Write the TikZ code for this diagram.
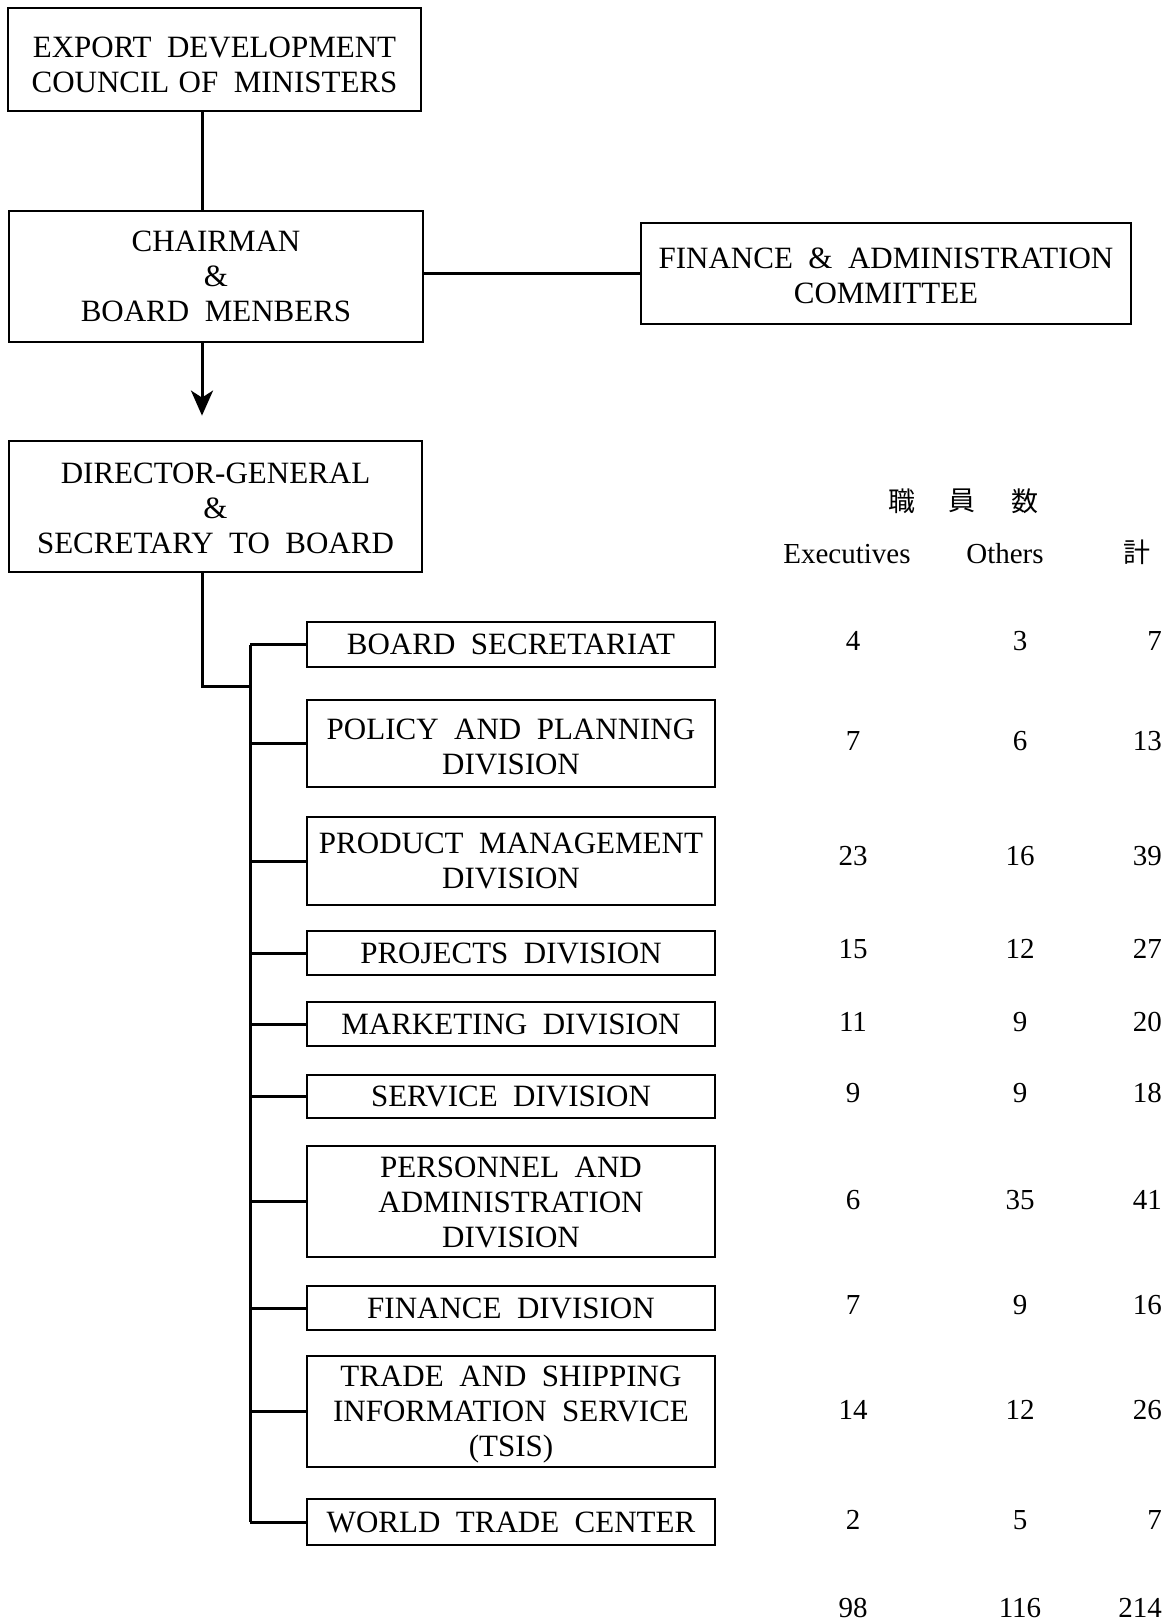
\documentclass[tikz,border=0pt]{standalone}
\usepackage{fontspec}
\setmainfont{Liberation Serif}
\newfontfamily\cjkfont{Noto Sans CJK JP}
\usetikzlibrary{arrows.meta}
\newcommand{\orgfont}{\fontsize{31}{35}\selectfont\spaceskip=0.5em plus 0.1em minus 0.1em\relax}
\newcommand{\tabfont}{\fontsize{29}{33}\selectfont}
% invisible strut on a first line: pushes the text block of a box down a little
\newcommand{\topstrut}[1]{\rule{0pt}{#1pt}}
\begin{document}
\begin{tikzpicture}[x=1pt,y=-1pt,
  orgbox/.style={draw, line width=2.8pt, inner sep=0pt, align=center, font=\orgfont},
  divbox/.style={orgbox, minimum width=408pt},
  link/.style={line width=3pt},
  num/.style={font=\tabfont, inner sep=0pt},
  head/.style={font=\tabfont, inner sep=0pt},
  cjkhead/.style={font=\fontsize{27}{30}\selectfont\cjkfont, inner sep=0pt}]
\useasboundingbox (0,0) rectangle (1170,1623);
\fill[white] (0,0) rectangle (1170,1623);

% top of the hierarchy
\node[orgbox, minimum width=413pt, minimum height=103pt] (council) at (214.5,59.5)
  {\topstrut{30.5}EXPORT DEVELOPMENT\\COUNCIL\kern0.3em OF MINISTERS};
\node[orgbox, minimum width=414pt, minimum height=131pt] (chair) at (216,276.5)
  {CHAIRMAN\\\&\\BOARD MENBERS};
\node[orgbox, minimum width=490pt, minimum height=101pt] (fa) at (886,273.5)
  {\topstrut{24.5}FINANCE \& ADMINISTRATION\\COMMITTEE};
\node[orgbox, minimum width=413pt, minimum height=131pt] (dg) at (215.5,506.5)
  {\topstrut{24.5}DIRECTOR-GENERAL\\\&\\SECRETARY TO BOARD};

% divisions
\node[divbox, minimum height=45pt]  (bs)   at (511,644.5)  {BOARD SECRETARIAT};
\node[divbox, minimum height=87pt]  (pol)  at (511,743.5)  {\topstrut{26.5}POLICY AND PLANNING\\DIVISION};
\node[divbox, minimum height=88pt]  (prod) at (511,861)    {PRODUCT MANAGEMENT\\DIVISION};
\node[divbox, minimum height=44pt]  (proj) at (511,953)    {PROJECTS DIVISION};
\node[divbox, minimum height=44pt]  (mkt)  at (511,1024)   {MARKETING DIVISION};
\node[divbox, minimum height=43pt]  (srv)  at (511,1096.5) {SERVICE DIVISION};
\node[divbox, minimum height=111pt] (pers) at (511,1201.5) {\topstrut{22.5}PERSONNEL AND\\ADMINISTRATION\\DIVISION};
\node[divbox, minimum height=44pt]  (fin)  at (511,1308)   {FINANCE DIVISION};
\node[divbox, minimum height=111pt] (tsis) at (511,1411.5) {\topstrut{26.5}TRADE AND SHIPPING\\INFORMATION SERVICE\\(TSIS)};
\node[divbox, minimum height=46pt]  (wtc)  at (511,1522)   {WORLD TRADE CENTER};

% connectors
\coordinate (spine) at (202,0);
\coordinate (trunk) at (250,0);
\coordinate (junc)  at (250,686);
\draw[link] (spine |- council.south) -- (spine |- chair.north);
\draw[link] (chair.east |- fa.west) -- (fa.west);
\draw[link, -{Stealth[length=25pt, width=22pt, inset=7pt]}]
  (spine |- chair.south) -- ([yshift=24pt]spine |- dg.north);
\draw[link] (spine |- dg.south) |- (junc);
\draw[link] (trunk |- bs.west) -- (trunk |- wtc.west);
\foreach \d in {bs,pol,prod,proj,mkt,srv,pers,fin,tsis,wtc}
  \draw[link] (trunk |- \d.west) -- (\d.west);

% staff table headings
\node[cjkhead] (hA) at (902,501)  {職};
\node[cjkhead] (hB) at (962,501)  {員};
\node[cjkhead] (hC) at (1025,501) {数};
\node[head] (hExec) at (847,554)  {Executives};
\node[head] (hOth)  at (1005,554) {Others};
\node[cjkhead] (hTot) at (1137,552) {計};

% staff table figures
\foreach \y/\e/\o/\t [count=\i] in {641/4/3/7, 741/7/6/13, 856/23/16/39, 949/15/12/27,
    1022/11/9/20, 1093/9/9/18, 1200/6/35/41, 1305/7/9/16, 1410/14/12/26,
    1520/2/5/7, 1608/98/116/214}{
  \node[num] (e\i) at (853,\y) {\e};
  \node[num] (o\i) at (1020,\y) {\o};
  \node[num, anchor=east] (t\i) at (1162,\y) {\t};
}
\end{tikzpicture}
\end{document}
